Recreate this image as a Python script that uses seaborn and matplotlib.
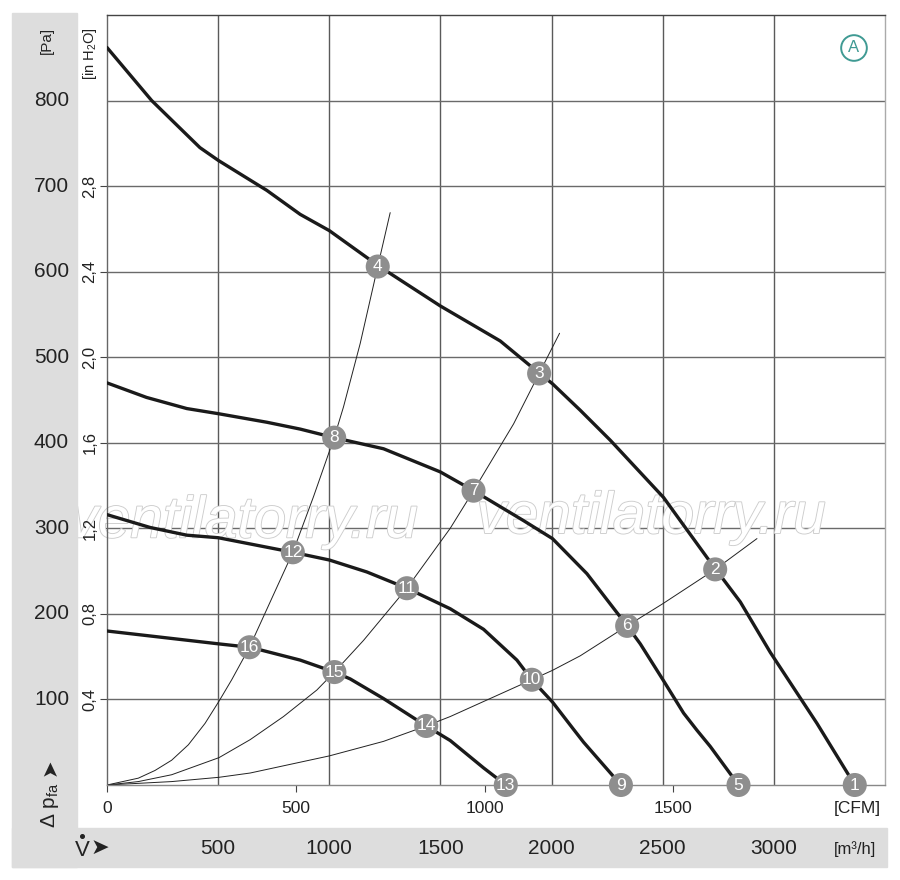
import matplotlib
matplotlib.use("Agg")
import matplotlib.pyplot as plt
import matplotlib.patheffects as pe
from matplotlib.patches import Rectangle
from matplotlib.lines import Line2D
from matplotlib.transforms import blended_transform_factory
import seaborn as sns

# fan curves: flow in m3/h, static pressure in Pa
fan1_q = [0, 201, 418, 501, 719, 869, 1000, 1220, 1499, 1769, 1946, 2004, 2129, 2264, 2504, 2579, 2699, 2736, 2849, 2984, 3194, 3364]
fan1_p = [862, 800, 745, 730, 695, 667, 648, 607, 560, 519, 481, 469, 438, 403, 336, 309, 266, 253, 214, 155, 72, 0]
fan2_q = [0, 178, 359, 501, 719, 869, 1022, 1244, 1499, 1649, 1874, 2004, 2159, 2340, 2399, 2501, 2594, 2654, 2714, 2841]
fan2_p = [470, 453, 440, 434, 424, 416, 406, 393, 366, 344, 309, 288, 247, 186, 165, 123, 84, 64, 45, 0]
fan3_q = [0, 194, 359, 501, 836, 1000, 1169, 1349, 1544, 1694, 1844, 1911, 2004, 2099, 2144, 2312]
fan3_p = [316, 301, 292, 289, 272, 263, 249, 230, 206, 182, 146, 123, 97, 65, 50, 0]
fan4_q = [0, 501, 641, 689, 869, 1023, 1094, 1244, 1436, 1544, 1694, 1794]
fan4_p = [180, 165, 161, 158, 146, 132, 124, 101, 69, 52, 20, 0]

# system curves
sysA_q = [0, 141, 216, 291, 366, 441, 504, 561, 641, 836, 929, 1022, 1064, 1139, 1218, 1274]
sysA_p = [0, 8, 17, 29, 47, 72, 98, 123, 161, 272, 337, 406, 442, 516, 606, 669]
sysB_q = [0, 141, 291, 504, 644, 794, 944, 1023, 1154, 1349, 1544, 1649, 1829, 1944, 2036]
sysB_p = [0, 4, 12, 32, 53, 80, 111, 132, 169, 230, 300, 344, 422, 481, 528]
sysC_q = [0, 291, 504, 644, 1000, 1244, 1436, 1544, 1911, 2004, 2129, 2340, 2501, 2736, 2924]
sysC_p = [0, 4, 9, 14, 34, 51, 69, 80, 123, 134, 151, 186, 212, 252, 288]

# numbered operating points
point_no = [1, 2, 3, 4, 5, 6, 7, 8, 9, 10, 11, 12, 13, 14, 15, 16]
point_q = [3364, 2736, 1944, 1218, 2841, 2340, 1649, 1022, 2312, 1911, 1349, 836, 1794, 1436, 1023, 641]
point_p = [0, 252, 481, 606, 0, 186, 344, 406, 0, 123, 230, 272, 0, 69, 132, 161]

m3h_ticks = [500, 1000, 1500, 2000, 2500, 3000]
pa_ticks = [100, 200, 300, 400, 500, 600, 700, 800]
inh2o_labels = ["0,4", "0,8", "1,2", "1,6", "2,0", "2,4", "2,8"]
cfm_ticks = [0, 500, 1000, 1500]
CFM_TO_M3H = 1.699

sns.set_theme(style="white")
plt.rcParams["font.family"] = ["Liberation Sans", "DejaVu Sans"]
plt.rcParams["mathtext.fontset"] = "custom"
plt.rcParams["mathtext.rm"] = "Liberation Sans"
plt.rcParams["mathtext.it"] = "Liberation Sans:italic"
plt.rcParams["mathtext.bf"] = "Liberation Sans:bold"

W, H = 900, 880
def fx(x):
    return x / W
def fy(y):
    return 1 - y / H

fig = plt.figure(figsize=(W / 100, H / 100), dpi=100)
fig.patch.set_facecolor("white")
band = "#dddddd"
fig.patches.append(Rectangle((fx(12), fy(867)), (77 - 12) / W, (867 - 13) / H,
                             transform=fig.transFigure, color=band, zorder=0))
fig.patches.append(Rectangle((fx(12), fy(867)), (887 - 12) / W, (867 - 828) / H,
                             transform=fig.transFigure, color=band, zorder=0))

ax = fig.add_axes([fx(107), fy(785), 778 / W, 770 / H])
ax.set_xlim(0, 3500)
ax.set_ylim(0, 900)

# grid
for m in m3h_ticks:
    ax.axvline(m, color="#5a5a5a", linewidth=1.0, zorder=0.5)
for p in pa_ticks:
    ax.axhline(p, color="#6a6a6a", linewidth=1.0, zorder=0.5)
ax.set_xticks([c * CFM_TO_M3H for c in cfm_ticks])
ax.set_yticks(pa_ticks[:-1])
ax.set_xticklabels([])
ax.set_yticklabels([])
ax.tick_params(direction="out", length=5, width=0.8, color="#444444", bottom=True, left=True)
ax.set_xlabel("")
ax.set_ylabel("")
for side, col in [("top", "#444444"), ("left", "#666666"), ("bottom", "#888888"), ("right", "#aaaaaa")]:
    ax.spines[side].set_color(col)
    ax.spines[side].set_linewidth(1.0)

# watermark
for wq, wp in [(615, 307), (2450, 312)]:
    ax.text(wq, wp, "ventilatorry.ru", fontsize=42, style="italic", color="white",
            ha="center", va="center", zorder=1.5,
            path_effects=[pe.Stroke(linewidth=1.3, foreground="#cdcdcd"), pe.Normal()])

for q, p in [(sysA_q, sysA_p), (sysB_q, sysB_p), (sysC_q, sysC_p)]:
    sns.lineplot(x=q, y=p, ax=ax, sort=False, estimator=None, color="#222222",
                 linewidth=0.7, zorder=2.5)
for q, p in [(fan1_q, fan1_p), (fan2_q, fan2_p), (fan3_q, fan3_p), (fan4_q, fan4_p)]:
    sns.lineplot(x=q, y=p, ax=ax, sort=False, estimator=None, color="#1a1a1a",
                 linewidth=2.4, zorder=3)

sns.scatterplot(x=point_q, y=point_p, ax=ax, s=300, color="#8e8e8e", edgecolor="none",
                zorder=5, clip_on=False, legend=False)
for n, q, p in zip(point_no, point_q, point_p):
    ax.text(q, p, str(n), ha="center", va="center", color="white", fontsize=12.5,
            zorder=6, clip_on=False)

# circled A
fig.text(fx(854), fy(48), "A", ha="center", va="center", fontsize=12, color="#3f9a93",
         bbox=dict(boxstyle="circle,pad=0.32", fc="white", ec="#3f9a93", lw=1.4))

# left side labels
ty = blended_transform_factory(fig.transFigure, ax.transData)
for p in pa_ticks:
    fig.text(fx(69), p, str(p), transform=ty, ha="right", va="center", fontsize=15, color="#222222")
for p, lab in zip(pa_ticks[:-1], inh2o_labels):
    fig.text(fx(90), p, lab, transform=ty, rotation=90, ha="center", va="center",
             fontsize=12, color="#222222")
fig.text(fx(90), fy(27), r"[in H$_\mathregular{2}$O]", rotation=90, ha="center", va="top",
         fontsize=10.5, color="#222222")
fig.text(fx(47), fy(27), "[Pa]", rotation=90, ha="center", va="top", fontsize=11, color="#222222")
fig.text(fx(50), fy(828), r"Δ p$_\mathregular{fa}$", rotation=90, ha="center", va="bottom",
         fontsize=15, color="#222222")
fig.text(fx(50), fy(758), "➤", rotation=90, ha="center", va="top", fontsize=15,
         color="#222222", family=["DejaVu Sans"])

# bottom labels
tx = blended_transform_factory(ax.transData, fig.transFigure)
for c in cfm_ticks:
    fig.text(c * CFM_TO_M3H, fy(808), str(c), transform=tx, ha="center", va="center",
             fontsize=12.5, color="#222222")
fig.text(fx(857), fy(808), "[CFM]", ha="center", va="center", fontsize=12.5, color="#222222")
for m in m3h_ticks:
    fig.text(m, fy(848), str(m), transform=tx, ha="center", va="center", fontsize=15,
             color="#222222")
fig.text(fx(855), fy(849), "[m³/h]", ha="center", va="center", fontsize=12, color="#222222")
fig.text(fx(75), fy(850), "V", ha="left", va="center", fontsize=16, color="#222222")
fig.add_artist(Line2D([fx(81.5)], [fy(836)], marker="o", markersize=2.6, color="#222222",
                      transform=fig.transFigure))
fig.text(fx(91), fy(848), "➤", ha="left", va="center", fontsize=16, color="#222222",
         family=["DejaVu Sans"])

fig.savefig("out.png", dpi=100)
